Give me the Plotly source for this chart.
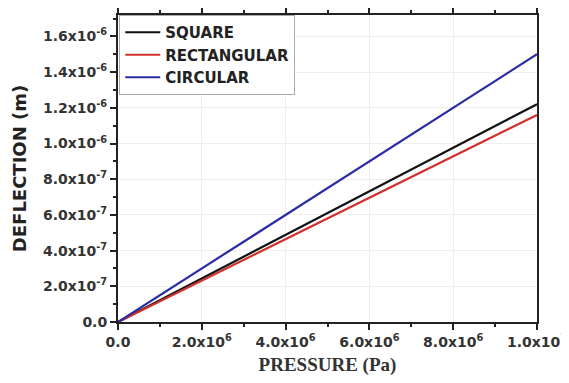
import plotly.graph_objects as go

pressure = [0.0, 1.0e7]
square = [0.0, 1.22e-6]
rectangular = [0.0, 1.16e-6]
circular = [0.0, 1.50e-6]

x_tickvals = [0, 2e6, 4e6, 6e6, 8e6, 1e7]
x_ticktext = ["0.0", "2.0x10<sup>6</sup>", "4.0x10<sup>6</sup>", "6.0x10<sup>6</sup>",
              "8.0x10<sup>6</sup>", "1.0x10<sup>7</sup>"]
y_tickvals = [0, 2e-7, 4e-7, 6e-7, 8e-7, 1e-6, 1.2e-6, 1.4e-6, 1.6e-6]
y_ticktext = ["0.0", "2.0x10<sup>-7</sup>", "4.0x10<sup>-7</sup>", "6.0x10<sup>-7</sup>",
              "8.0x10<sup>-7</sup>", "1.0x10<sup>-6</sup>", "1.2x10<sup>-6</sup>",
              "1.4x10<sup>-6</sup>", "1.6x10<sup>-6</sup>"]

x_ticktext = ["<b>" + t + "</b>" for t in x_ticktext]
y_ticktext = ["<b>" + t + "</b>" for t in y_ticktext]

fig = go.Figure()
fig.add_trace(go.Scatter(x=pressure, y=square, mode="lines", name="<b>SQUARE</b>",
                         line=dict(color="#111111", width=2.2)))
fig.add_trace(go.Scatter(x=pressure, y=rectangular, mode="lines", name="<b>RECTANGULAR</b>",
                         line=dict(color="#d0302e", width=2.2)))
fig.add_trace(go.Scatter(x=pressure, y=circular, mode="lines", name="<b>CIRCULAR</b>",
                         line=dict(color="#2b2ba6", width=2.2)))

tickfont = dict(family="DejaVu Sans", size=14, color="#333333")

fig.update_layout(
    width=569, height=383,
    margin=dict(l=110, r=40, t=7, b=69, autoexpand=False),
    paper_bgcolor="white", plot_bgcolor="white",
    showlegend=True,
    legend=dict(x=0.003, y=1.0, xanchor="left", yanchor="top",
                bgcolor="white", bordercolor="#aaaaaa", borderwidth=1,
                font=dict(family="DejaVu Sans", size=15, color="#222222"),
                tracegroupgap=0, itemwidth=35),
    xaxis=dict(range=[0, 1e7], tickmode="array", tickvals=x_tickvals, ticktext=x_ticktext,
               ticks="outside", ticklen=6, tickwidth=2, tickcolor="#222",
               showline=True, linecolor="#222", linewidth=2, mirror="ticks",
               showgrid=True, gridcolor="#eeeeee", zeroline=False, automargin=False,
               tickfont=tickfont,
               minor=dict(tickmode="linear", tick0=0, dtick=1e6, ticks="outside",
                          ticklen=3, tickwidth=2, tickcolor="#222", showgrid=False),
               title=dict(text="<b>PRESSURE (Pa)</b>", standoff=9,
                          font=dict(family="Liberation Serif, Times New Roman", size=19,
                                    color="#333333"))),
    yaxis=dict(range=[0, 1.72e-6], tickmode="array", tickvals=y_tickvals, ticktext=y_ticktext,
               ticks="outside", ticklen=6, tickwidth=2, tickcolor="#222",
               showline=True, linecolor="#222", linewidth=2, mirror=True,
               showgrid=True, gridcolor="#eeeeee", zeroline=False, automargin=False,
               tickfont=tickfont,
               minor=dict(tickmode="linear", tick0=0, dtick=1e-7, ticks="outside",
                          ticklen=3, tickwidth=2, tickcolor="#222", showgrid=False),
               title=dict(text="<b>DEFLECTION (m)</b>", standoff=12,
                          font=dict(family="DejaVu Sans", size=18,
                                    color="#222222"))),
)

fig.write_html("out.html")
